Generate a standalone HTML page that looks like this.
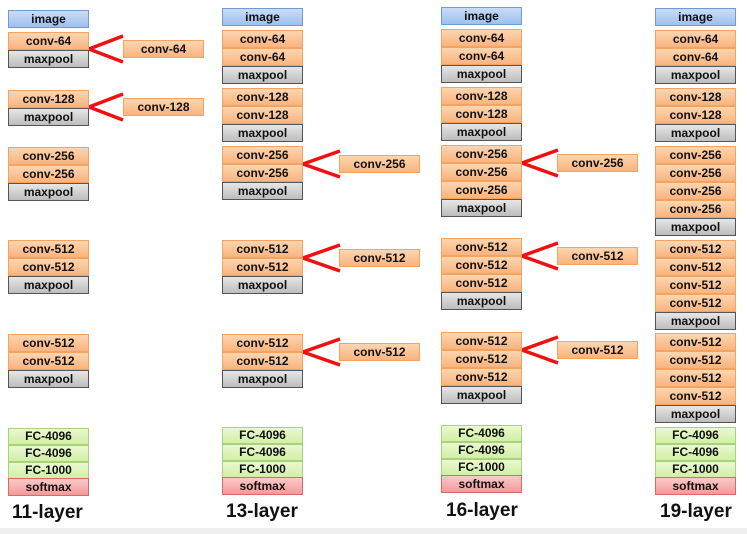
<!DOCTYPE html>
<html><head><meta charset="utf-8"><style>
body{margin:0;width:747px;height:534px;background:#fff;position:relative;overflow:hidden;font-family:"Liberation Sans",Arial,sans-serif}
.b{position:absolute;width:79px;height:16px;line-height:16px;text-align:center;font-weight:bold;font-size:12px;color:#111;box-sizing:content-box}
.c{background:linear-gradient(#fcd5b0,#f9b47e);border:1px solid #f4a460}
.m{background:linear-gradient(#e6e6e6,#bdbdbd);border:1px solid #555}
.i{background:linear-gradient(#c9dcf7,#9fc0ee);border:1px solid #6c9bd6}
.f{background:linear-gradient(#eaf8d0,#d2efa6);border:1px solid #a8d37a;height:15px;line-height:15px}
.s{background:linear-gradient(#fbc9c9,#f39a9a);border:1px solid #d86a6a}
.l{position:absolute;font-weight:bold;font-size:19px;color:#111}
.bot{position:absolute;left:0;top:528px;width:747px;height:6px;background:#f0f0f0}
</style></head><body>
<svg width="747" height="534" style="position:absolute;left:0;top:0" fill="none" stroke="#f01010" stroke-width="3.5">
<polyline points="123,36 89,49 123,62"/>
<polyline points="123,94 89,107 123,120"/>
<polyline points="340,151 303,164 340,177"/>
<polyline points="340,245 303,258 340,271"/>
<polyline points="340,339 303,352 340,365"/>
<polyline points="558,150 522,163 558,176"/>
<polyline points="558,243 522,256 558,269"/>
<polyline points="558,337 522,350 558,363"/>
</svg>
<!-- col1 -->
<div class="b i" style="left:8px;top:10px">image</div>
<div class="b c" style="left:8px;top:32px">conv-64</div>
<div class="b m" style="left:8px;top:50px">maxpool</div>
<div class="b c" style="left:8px;top:90px">conv-128</div>
<div class="b m" style="left:8px;top:108px">maxpool</div>
<div class="b c" style="left:8px;top:147px">conv-256</div>
<div class="b c" style="left:8px;top:165px">conv-256</div>
<div class="b m" style="left:8px;top:183px">maxpool</div>
<div class="b c" style="left:8px;top:240px">conv-512</div>
<div class="b c" style="left:8px;top:258px">conv-512</div>
<div class="b m" style="left:8px;top:276px">maxpool</div>
<div class="b c" style="left:8px;top:334px">conv-512</div>
<div class="b c" style="left:8px;top:352px">conv-512</div>
<div class="b m" style="left:8px;top:370px">maxpool</div>
<div class="b f" style="left:8px;top:428px">FC-4096</div>
<div class="b f" style="left:8px;top:445px">FC-4096</div>
<div class="b f" style="left:8px;top:462px">FC-1000</div>
<div class="b s" style="left:8px;top:478px">softmax</div>
<div class="l" style="left:12px;top:502px">11-layer</div>
<div class="b c" style="left:123px;top:40px">conv-64</div>
<div class="b c" style="left:123px;top:98px">conv-128</div>
<!-- col2 -->
<div class="b i" style="left:222px;top:8px">image</div>
<div class="b c" style="left:222px;top:30px">conv-64</div>
<div class="b c" style="left:222px;top:48px">conv-64</div>
<div class="b m" style="left:222px;top:66px">maxpool</div>
<div class="b c" style="left:222px;top:88px">conv-128</div>
<div class="b c" style="left:222px;top:106px">conv-128</div>
<div class="b m" style="left:222px;top:124px">maxpool</div>
<div class="b c" style="left:222px;top:146px">conv-256</div>
<div class="b c" style="left:222px;top:164px">conv-256</div>
<div class="b m" style="left:222px;top:182px">maxpool</div>
<div class="b c" style="left:222px;top:240px">conv-512</div>
<div class="b c" style="left:222px;top:258px">conv-512</div>
<div class="b m" style="left:222px;top:276px">maxpool</div>
<div class="b c" style="left:222px;top:334px">conv-512</div>
<div class="b c" style="left:222px;top:352px">conv-512</div>
<div class="b m" style="left:222px;top:370px">maxpool</div>
<div class="b f" style="left:222px;top:427px">FC-4096</div>
<div class="b f" style="left:222px;top:444px">FC-4096</div>
<div class="b f" style="left:222px;top:461px">FC-1000</div>
<div class="b s" style="left:222px;top:477px">softmax</div>
<div class="l" style="left:226px;top:501px">13-layer</div>
<div class="b c" style="left:339px;top:155px">conv-256</div>
<div class="b c" style="left:339px;top:249px">conv-512</div>
<div class="b c" style="left:339px;top:343px">conv-512</div>
<!-- col3 -->
<div class="b i" style="left:441px;top:7px">image</div>
<div class="b c" style="left:441px;top:29px">conv-64</div>
<div class="b c" style="left:441px;top:47px">conv-64</div>
<div class="b m" style="left:441px;top:65px">maxpool</div>
<div class="b c" style="left:441px;top:87px">conv-128</div>
<div class="b c" style="left:441px;top:105px">conv-128</div>
<div class="b m" style="left:441px;top:123px">maxpool</div>
<div class="b c" style="left:441px;top:145px">conv-256</div>
<div class="b c" style="left:441px;top:163px">conv-256</div>
<div class="b c" style="left:441px;top:181px">conv-256</div>
<div class="b m" style="left:441px;top:199px">maxpool</div>
<div class="b c" style="left:441px;top:238px">conv-512</div>
<div class="b c" style="left:441px;top:256px">conv-512</div>
<div class="b c" style="left:441px;top:274px">conv-512</div>
<div class="b m" style="left:441px;top:292px">maxpool</div>
<div class="b c" style="left:441px;top:332px">conv-512</div>
<div class="b c" style="left:441px;top:350px">conv-512</div>
<div class="b c" style="left:441px;top:368px">conv-512</div>
<div class="b m" style="left:441px;top:386px">maxpool</div>
<div class="b f" style="left:441px;top:425px">FC-4096</div>
<div class="b f" style="left:441px;top:442px">FC-4096</div>
<div class="b f" style="left:441px;top:459px">FC-1000</div>
<div class="b s" style="left:441px;top:475px">softmax</div>
<div class="l" style="left:446px;top:500px">16-layer</div>
<div class="b c" style="left:557px;top:154px">conv-256</div>
<div class="b c" style="left:557px;top:247px">conv-512</div>
<div class="b c" style="left:557px;top:341px">conv-512</div>
<!-- col4 -->
<div class="b i" style="left:655px;top:8px">image</div>
<div class="b c" style="left:655px;top:30px">conv-64</div>
<div class="b c" style="left:655px;top:48px">conv-64</div>
<div class="b m" style="left:655px;top:66px">maxpool</div>
<div class="b c" style="left:655px;top:88px">conv-128</div>
<div class="b c" style="left:655px;top:106px">conv-128</div>
<div class="b m" style="left:655px;top:124px">maxpool</div>
<div class="b c" style="left:655px;top:146px">conv-256</div>
<div class="b c" style="left:655px;top:164px">conv-256</div>
<div class="b c" style="left:655px;top:182px">conv-256</div>
<div class="b c" style="left:655px;top:200px">conv-256</div>
<div class="b m" style="left:655px;top:218px">maxpool</div>
<div class="b c" style="left:655px;top:240px">conv-512</div>
<div class="b c" style="left:655px;top:258px">conv-512</div>
<div class="b c" style="left:655px;top:276px">conv-512</div>
<div class="b c" style="left:655px;top:294px">conv-512</div>
<div class="b m" style="left:655px;top:312px">maxpool</div>
<div class="b c" style="left:655px;top:333px">conv-512</div>
<div class="b c" style="left:655px;top:351px">conv-512</div>
<div class="b c" style="left:655px;top:369px">conv-512</div>
<div class="b c" style="left:655px;top:387px">conv-512</div>
<div class="b m" style="left:655px;top:405px">maxpool</div>
<div class="b f" style="left:655px;top:427px">FC-4096</div>
<div class="b f" style="left:655px;top:444px">FC-4096</div>
<div class="b f" style="left:655px;top:461px">FC-1000</div>
<div class="b s" style="left:655px;top:477px">softmax</div>
<div class="l" style="left:660px;top:501px">19-layer</div>
<div class="bot"></div>
</body></html>
